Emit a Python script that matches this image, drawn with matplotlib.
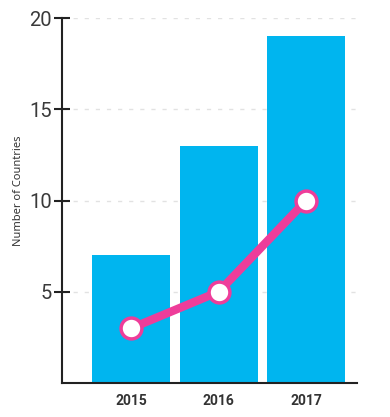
import matplotlib.pyplot as plt

# data
years = ["2015", "2016", "2017"]
bar_values = [7, 13, 19]
line_values = [3, 5, 10]

bar_color = "#00b5ef"
line_color = "#ee3d9a"

fig = plt.figure(figsize=(3.9, 4.17), dpi=100)
ax = fig.add_axes([62 / 390, 34 / 417, 295 / 390, 365 / 417])

x = list(range(len(years)))
ax.bar(x, bar_values, width=0.89, color=bar_color, zorder=2)
ax.plot(x, line_values, color=line_color, linewidth=6, zorder=3,
        marker="o", markersize=15, markerfacecolor="white",
        markeredgecolor=line_color, markeredgewidth=2.5)

ax.set_xlim(-0.79, 2.58)
ax.set_ylim(0, 20)
ax.set_yticks([5, 10, 15, 20])
ax.set_xticks(x)
ax.set_xticklabels(years, fontsize=10, fontweight="bold", color="#333333",
                   family="Roboto")
for lab in ax.get_yticklabels():
    lab.set_family("Roboto")
    lab.set_fontsize(14.5)
    lab.set_color("#3a3a3a")

ax.yaxis.grid(True, linestyle=(0, (3, 5)), color="#e2e2e2", linewidth=1, zorder=0)
ax.tick_params(axis="y", direction="inout", length=11, width=1.5, color="#222222", pad=2)
ax.tick_params(axis="x", length=0, pad=8)

for side in ["top", "right"]:
    ax.spines[side].set_visible(False)
for side in ["left", "bottom"]:
    ax.spines[side].set_color("#222222")
    ax.spines[side].set_linewidth(1.5)

ax.set_ylabel("Number of Countries", fontsize=8, family="Noto Sans",
              color="#333333")
ax.yaxis.set_label_coords(-0.128, 0.526)

fig.savefig("out.png", dpi=100)
